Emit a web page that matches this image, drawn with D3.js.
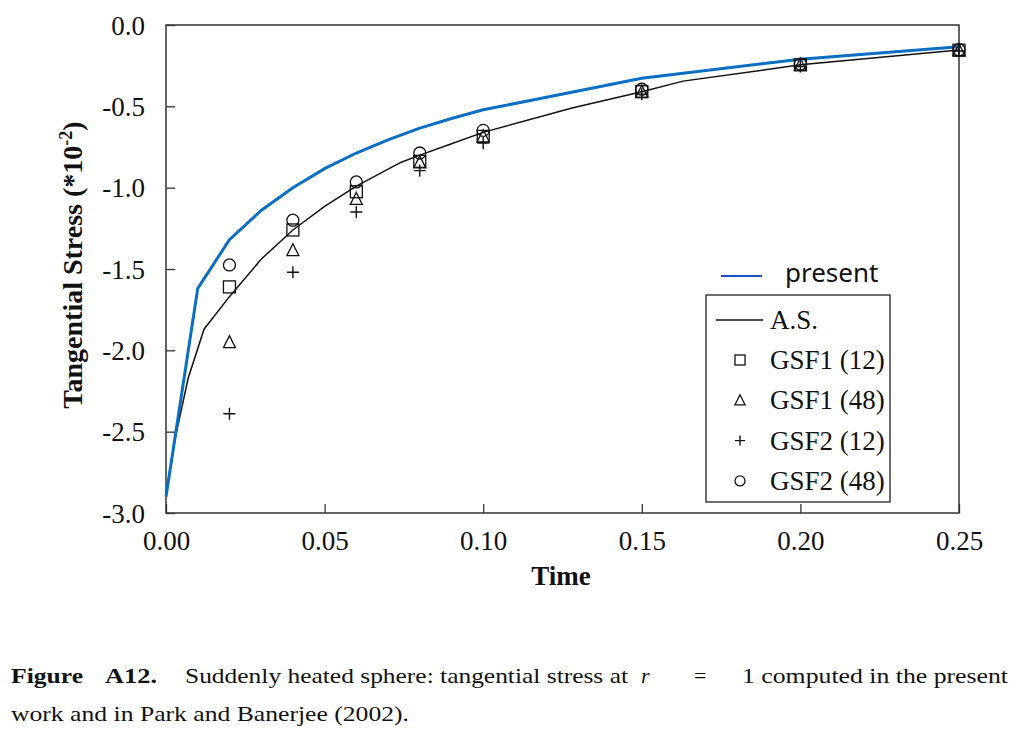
<!DOCTYPE html>
<meta charset="utf-8">
<head>
  <title>Tangential stress</title>
  <script src="https://d3js.org/d3.v7.min.js"></script>
  <style>
    body { margin: 0; background: #fff; }
    svg text { font-family: "Liberation Serif", "Times New Roman", serif; fill: #111; }
  </style>
</head>
<body>
<div id="display"></div>
<script>

// present solution
var presentT = [0, 0.01, 0.02, 0.03, 0.04, 0.05, 0.06, 0.07, 0.08, 0.09, 0.10, 0.116, 0.15, 0.20, 0.25];
var presentV = [-2.9, -1.62, -1.32, -1.14, -1.0, -0.883, -0.787, -0.706, -0.634, -0.575, -0.521, -0.46, -0.327, -0.21, -0.133];

// analytical solution (A.S.)
var asT = [0, 0.003, 0.007, 0.012, 0.02, 0.03, 0.04, 0.05, 0.06, 0.074, 0.08, 0.09, 0.10, 0.128, 0.15, 0.163, 0.20, 0.25];
var asV = [-2.88, -2.53, -2.17, -1.87, -1.67, -1.44, -1.26, -1.115, -0.99, -0.845, -0.80, -0.73, -0.66, -0.51, -0.41, -0.345, -0.245, -0.153];

// GSF markers
var markT = [0.02, 0.04, 0.06, 0.08, 0.10, 0.15, 0.20, 0.25];
var gsf1_12 = [-1.61, -1.26, -1.025, -0.838, -0.685, -0.41, -0.245, -0.155];
var gsf1_48 = [-1.95, -1.385, -1.07, -0.845, -0.685, -0.41, -0.245, -0.155];
var gsf2_12 = [-2.39, -1.52, -1.15, -0.895, -0.726, -0.425, -0.255, -0.16];
var gsf2_48 = [-1.475, -1.2, -0.965, -0.787, -0.648, -0.395, -0.24, -0.152];

var xTicks = [0, 0.05, 0.10, 0.15, 0.20, 0.25];
var yTicks = [0, -0.5, -1.0, -1.5, -2.0, -2.5, -3.0];

var W = 1024, H = 745;
var margin = {top: 25, right: 65, bottom: 232, left: 166};
var width = W - margin.left - margin.right,
    height = H - margin.top - margin.bottom;

var svg = d3.select("#display").append("svg")
    .attr("width", W).attr("height", H);
var g = svg.append("g")
    .attr("transform", "translate(" + margin.left + "," + margin.top + ")");

var x = d3.scaleLinear().domain([0, 0.25]).range([0, width]);
var y = d3.scaleLinear().domain([-3, 0]).range([height, 0]);

function fmt(p) {
  var f = d3.format(p);
  return function(d) { return f(d).replace("\u2212", "-"); };
}

// axes, ticks pointing inward
var xAxis = g.append("g")
  .attr("transform", "translate(0," + height + ")")
  .call(d3.axisBottom(x).tickValues(xTicks).tickSizeInner(-9).tickSizeOuter(0)
        .tickPadding(18).tickFormat(fmt(".2f")));
var yAxis = g.append("g")
  .call(d3.axisLeft(y).tickValues(yTicks).tickSizeInner(-9).tickSizeOuter(0)
        .tickPadding(21).tickFormat(fmt(".1f")));

[xAxis, yAxis].forEach(function(a) {
  a.select(".domain").remove();
  a.selectAll("line").attr("stroke", "#333").attr("stroke-width", 1.3);
  a.selectAll("text").style("font-family", "Liberation Serif").style("font-size", "27px").attr("fill", "#111");
});
xAxis.selectAll("text").attr("dy", "0.71em");
yAxis.selectAll("text").attr("dy", "0.34em");

g.append("rect")
  .attr("width", width).attr("height", height)
  .attr("fill", "none").attr("stroke", "#333").attr("stroke-width", 1.5);

// lines
var line = d3.line().x(function(d) { return x(d[0]); }).y(function(d) { return y(d[1]); });

g.append("path")
  .datum(asT.map(function(t, i) { return [t, asV[i]]; }))
  .attr("d", line).attr("fill", "none").attr("stroke", "#111").attr("stroke-width", 1.5);

g.append("path")
  .datum(presentT.map(function(t, i) { return [t, presentV[i]]; }))
  .attr("d", line).attr("fill", "none").attr("stroke", "#0a6fc2").attr("stroke-width", 3);

// marker shapes
function drawMarker(sel, kind, s) {
  if (kind == "square") {
    sel.append("rect").attr("x", -s/2).attr("y", -s/2).attr("width", s).attr("height", s)
      .attr("fill", "none").attr("stroke", "#111").attr("stroke-width", 1.3);
  } else if (kind == "triangle") {
    sel.append("path").attr("d", "M0," + (-s*0.55) + "L" + (s*0.5) + "," + (s*0.45) + "L" + (-s*0.5) + "," + (s*0.45) + "Z")
      .attr("fill", "none").attr("stroke", "#111").attr("stroke-width", 1.3);
  } else if (kind == "plus") {
    sel.append("path").attr("d", "M" + (-s/2) + ",0H" + (s/2) + "M0," + (-s/2) + "V" + (s/2))
      .attr("fill", "none").attr("stroke", "#111").attr("stroke-width", 1.4);
  } else {
    sel.append("circle").attr("r", s/2)
      .attr("fill", "none").attr("stroke", "#111").attr("stroke-width", 1.3);
  }
}

var sets = [
  {name: "GSF1 (12)", kind: "square", values: gsf1_12},
  {name: "GSF1 (48)", kind: "triangle", values: gsf1_48},
  {name: "GSF2 (12)", kind: "plus", values: gsf2_12},
  {name: "GSF2 (48)", kind: "circle", values: gsf2_48}
];

sets.forEach(function(s) {
  g.selectAll(".m-" + s.kind)
    .data(markT.map(function(t, i) { return [t, s.values[i]]; }))
    .enter().append("g")
      .attr("class", "m-" + s.kind)
      .attr("transform", function(d) { return "translate(" + x(d[0]) + "," + y(d[1]) + ")"; })
      .each(function() { drawMarker(d3.select(this), s.kind, 12); });
});

// axis titles
svg.append("text")
  .attr("x", 561).attr("y", 585)
  .attr("text-anchor", "middle")
  .style("font-size", "27px").style("font-weight", "bold")
  .text("Time");

var yl = svg.append("text")
  .attr("transform", "translate(82,265) rotate(-90)")
  .attr("text-anchor", "middle")
  .style("font-size", "28px").style("font-weight", "bold");
yl.append("tspan").text("Tangential Stress (*10");
yl.append("tspan").attr("baseline-shift", "super").style("font-size", "18px").text("-2");
yl.append("tspan").text(")");

// legend
var leg = svg.append("g");
leg.append("line").attr("x1", 721).attr("x2", 762).attr("y1", 276).attr("y2", 276)
  .attr("stroke", "#1a4fc4").attr("stroke-width", 2);
leg.append("text").attr("x", 785).attr("y", 282)
  .style("font-family", "Noto Sans").style("font-size", "26px").text("present");

leg.append("rect").attr("x", 706).attr("y", 295).attr("width", 184).attr("height", 207)
  .attr("fill", "#fff").attr("stroke", "#222").attr("stroke-width", 1.3);
leg.append("line").attr("x1", 716).attr("x2", 763).attr("y1", 320).attr("y2", 320)
  .attr("stroke", "#111").attr("stroke-width", 1.5);
leg.append("text").attr("x", 770).attr("y", 329).style("font-size", "27px").text("A.S.");

sets.forEach(function(s, i) {
  var yy = 360 + i * 40.3;
  var m = leg.append("g").attr("transform", "translate(740," + yy + ")");
  drawMarker(m, s.kind, 10);
  leg.append("text").attr("x", 770).attr("y", yy + 9).style("font-size", "27px").text(s.name);
});

// caption
var cap = svg.append("g").style("font-size", "22px");
cap.append("text").attr("x", 11).attr("y", 683).style("font-weight", "bold")
  .attr("textLength", 72).attr("lengthAdjust", "spacingAndGlyphs").text("Figure");
cap.append("text").attr("x", 105).attr("y", 683).style("font-weight", "bold")
  .attr("textLength", 52).attr("lengthAdjust", "spacingAndGlyphs").text("A12.");
cap.append("text").attr("x", 185).attr("y", 683)
  .attr("textLength", 443).attr("lengthAdjust", "spacingAndGlyphs")
  .text("Suddenly heated sphere: tangential stress at");
cap.append("text").attr("x", 641).attr("y", 683).style("font-style", "italic").text("r");
cap.append("text").attr("x", 694).attr("y", 683).text("=");
cap.append("text").attr("x", 742).attr("y", 683)
  .attr("textLength", 266).attr("lengthAdjust", "spacingAndGlyphs")
  .text("1 computed in the present");
cap.append("text").attr("x", 11).attr("y", 721)
  .attr("textLength", 398).attr("lengthAdjust", "spacingAndGlyphs")
  .text("work and in Park and Banerjee (2002).");

</script>
</body>
